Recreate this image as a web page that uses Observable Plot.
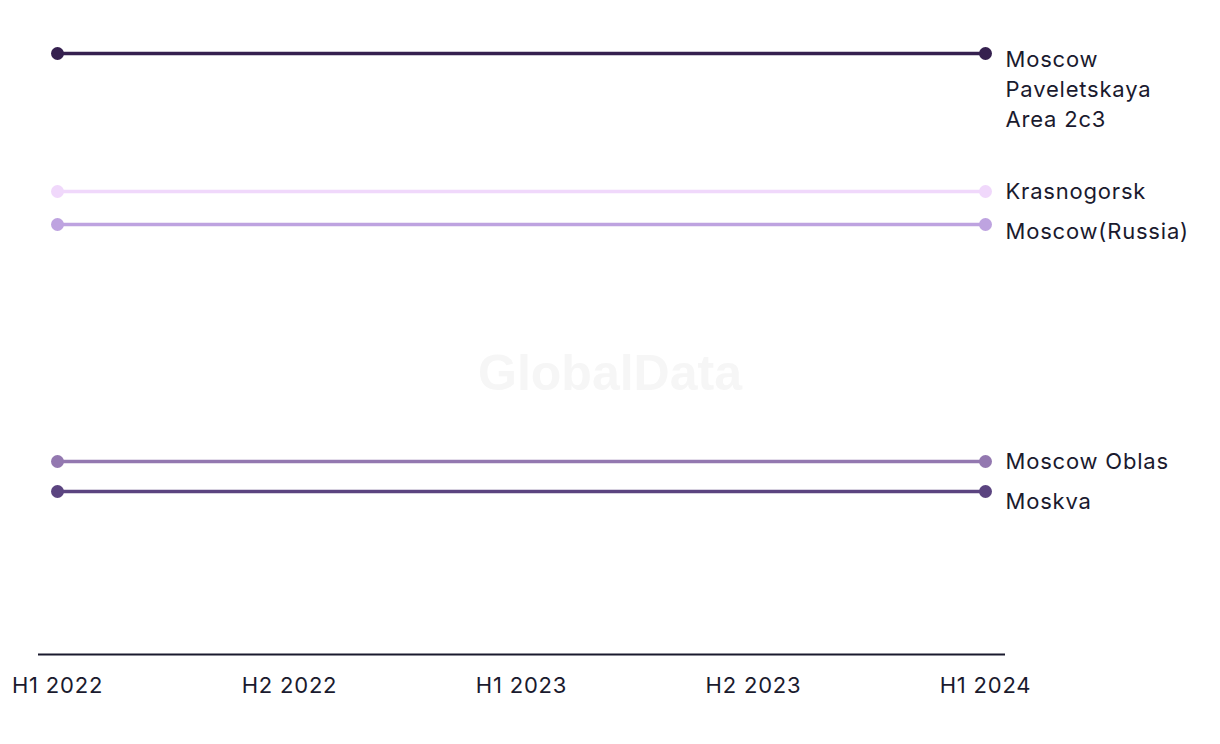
<!DOCTYPE html>
<html>
<head>
<meta charset="utf-8">
<script src="https://cdn.jsdelivr.net/npm/d3@7"></script>
<script src="https://cdn.jsdelivr.net/npm/@observablehq/plot@0.6"></script>
<style>
  html, body { margin: 0; padding: 0; background: #fff; }
  #wrap { position: relative; width: 1220px; height: 744px; font-family: Inter, "Noto Sans", sans-serif; }
  #wrap svg text { letter-spacing: 0.8px; }
  #wm { position: absolute; left: 610px; top: 373px; transform: translate(-50%, -50%);
        font-family: "Liberation Sans", Arial, sans-serif; font-weight: bold; font-size: 50px;
        color: #f6f6f6; pointer-events: none; white-space: nowrap; }
</style>
</head>
<body>
<div id="wrap"><div id="wm">GlobalData</div></div>
<script>
const periods = ["H1 2022", "H2 2022", "H1 2023", "H2 2023", "H1 2024"];
const series = ["Moscow\nPaveletskaya\nArea 2c3", "Krasnogorsk", "Moscow(Russia)", "Moscow Oblas", "Moskva"];
const startValues = [6.01, 4.63, 4.30, 1.93, 1.63];
const endValues   = [6.01, 4.63, 4.30, 1.93, 1.63];
const colors = ["#35204f", "#f0d8fb", "#bea3e0", "#9378b0", "#5b4480"];

const W = 1220, H = 744;
const mTop = 53, mBottom = 90, mLeft = 38, mRight = 215;
const yDomain = [0, 6.01];

const data = [];
series.forEach((s, i) => {
  data.push({series: s, period: periods[0], value: startValues[i]});
  data.push({series: s, period: periods[periods.length - 1], value: endValues[i]});
});
const ends = data.filter(d => d.period === periods[periods.length - 1]);

// simple label dodge (pixel space) so that labels don't overlap
const yPx = d3.scaleLinear(yDomain, [H - mBottom, mTop]);
const sorted = ends.slice().sort((a, b) => b.value - a.value);
let prevBottom = -Infinity;
const labelY = new Map();
for (const d of sorted) {
  const lines = d.series.split("\n").length;
  let top = yPx(d.value);
  if (top < prevBottom) top = prevBottom;
  labelY.set(d.series, yPx.invert(top));
  prevBottom = top + 30 * (lines - 1) + 40;
}
const labels = ends.map(d => ({...d, ly: labelY.get(d.series), multi: d.series.includes("\n")}));

const textOpts = {x: "period", y: "ly", text: "series", textAnchor: "start", lineAnchor: "top",
  dx: 20, lineHeight: 1.36, fill: "#1a1a2e", fontSize: 22};

const chart = Plot.plot({
  width: W, height: H,
  marginTop: mTop, marginBottom: mBottom, marginLeft: mLeft, marginRight: mRight,
  insetLeft: 19, insetRight: 20,
  style: {fontFamily: "Inter, 'Noto Sans', sans-serif", fontSize: "22px", color: "#1a1a2e", background: "transparent"},
  x: {type: "point", domain: periods, padding: 0, label: null, tickSize: 0, tickPadding: 23},
  y: {domain: yDomain, axis: null},
  color: {domain: series, range: colors},
  marks: [
    Plot.ruleY([0], {stroke: "#1a1a2e", strokeWidth: 2}),
    Plot.line(data, {x: "period", y: "value", z: "series", stroke: "series", strokeWidth: 3.5}),
    Plot.dot(data, {x: "period", y: "value", fill: "series", r: 6.5}),
    Plot.text(labels.filter(d => d.multi), {...textOpts, dy: -8}),
    Plot.text(labels.filter(d => !d.multi), {...textOpts, dy: -14})
  ]
});
document.getElementById("wrap").prepend(chart);
</script>
</body>
</html>
